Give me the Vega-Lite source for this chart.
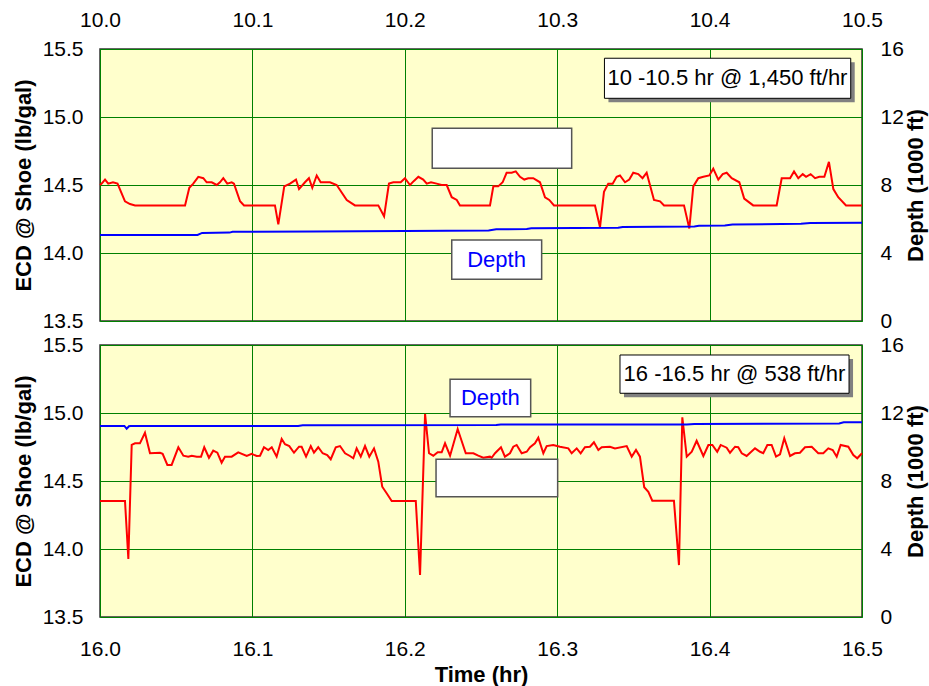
{
  "$schema": "https://vega.github.io/schema/vega-lite/v6.json",
  "background": "white",
  "padding": {"left": 11, "top": 8, "right": 2, "bottom": 0},
  "spacing": 24,
  "bounds": "flush",
  "config": {
    "font": "Liberation Sans",
    "view": {"fill": "#ffffcc", "stroke": "#333333", "strokeWidth": 1.5},
    "axis": {
      "labelFont": "Liberation Sans", "labelFontSize": 21, "labelColor": "#000000",
      "titleFont": "Liberation Sans", "titleFontSize": 22, "titleFontWeight": "bold", "titleColor": "#000000",
      "gridColor": "#008000", "gridOpacity": 1, "gridWidth": 1,
      "domain": false, "ticks": false, "labelPadding": 17, "labelFlush": false, "labelOverlap": false
    }
  },
  "datasets": {
    "ecdTop": [
      {"t": 10.0, "ecd": 14.50}, {"t": 10.0011, "ecd": 14.51}, {"t": 10.0033, "ecd": 14.54}, {"t": 10.0054, "ecd": 14.51}, {"t": 10.0085, "ecd": 14.52}, {"t": 10.0115, "ecd": 14.51},
      {"t": 10.0164, "ecd": 14.38}, {"t": 10.0197, "ecd": 14.36}, {"t": 10.0230, "ecd": 14.35}, {"t": 10.0558, "ecd": 14.35}, {"t": 10.0586, "ecd": 14.48},
      {"t": 10.0612, "ecd": 14.51}, {"t": 10.0645, "ecd": 14.56}, {"t": 10.0678, "ecd": 14.55}, {"t": 10.0700, "ecd": 14.52}, {"t": 10.0733, "ecd": 14.52},
      {"t": 10.0766, "ecd": 14.50}, {"t": 10.0787, "ecd": 14.52}, {"t": 10.0809, "ecd": 14.55}, {"t": 10.0835, "ecd": 14.51}, {"t": 10.0864, "ecd": 14.52},
      {"t": 10.0879, "ecd": 14.51}, {"t": 10.0919, "ecd": 14.38}, {"t": 10.0945, "ecd": 14.35}, {"t": 10.1148, "ecd": 14.35}, {"t": 10.1170, "ecd": 14.21},
      {"t": 10.1209, "ecd": 14.49}, {"t": 10.1247, "ecd": 14.51}, {"t": 10.1286, "ecd": 14.54}, {"t": 10.1306, "ecd": 14.47}, {"t": 10.1345, "ecd": 14.52},
      {"t": 10.1371, "ecd": 14.55}, {"t": 10.1393, "ecd": 14.48}, {"t": 10.1422, "ecd": 14.57}, {"t": 10.1448, "ecd": 14.52}, {"t": 10.1509, "ecd": 14.52},
      {"t": 10.1553, "ecd": 14.50}, {"t": 10.1619, "ecd": 14.39}, {"t": 10.1673, "ecd": 14.35}, {"t": 10.1826, "ecd": 14.35}, {"t": 10.1864, "ecd": 14.27},
      {"t": 10.1896, "ecd": 14.51}, {"t": 10.1925, "ecd": 14.52}, {"t": 10.1973, "ecd": 14.52}, {"t": 10.2001, "ecd": 14.55}, {"t": 10.2034, "ecd": 14.50},
      {"t": 10.2060, "ecd": 14.53}, {"t": 10.2089, "ecd": 14.56}, {"t": 10.2121, "ecd": 14.54}, {"t": 10.2144, "ecd": 14.51}, {"t": 10.2172, "ecd": 14.52},
      {"t": 10.2209, "ecd": 14.51}, {"t": 10.2242, "ecd": 14.50}, {"t": 10.2275, "ecd": 14.50}, {"t": 10.2308, "ecd": 14.41}, {"t": 10.2341, "ecd": 14.39},
      {"t": 10.2362, "ecd": 14.35}, {"t": 10.2559, "ecd": 14.35}, {"t": 10.2581, "ecd": 14.49}, {"t": 10.2613, "ecd": 14.49}, {"t": 10.2642, "ecd": 14.52},
      {"t": 10.2668, "ecd": 14.59}, {"t": 10.2701, "ecd": 14.59}, {"t": 10.2728, "ecd": 14.60}, {"t": 10.2756, "ecd": 14.56}, {"t": 10.2784, "ecd": 14.54},
      {"t": 10.2810, "ecd": 14.55}, {"t": 10.2843, "ecd": 14.55}, {"t": 10.2887, "ecd": 14.52}, {"t": 10.2920, "ecd": 14.41}, {"t": 10.2948, "ecd": 14.39},
      {"t": 10.2979, "ecd": 14.35}, {"t": 10.3248, "ecd": 14.35}, {"t": 10.3281, "ecd": 14.19}, {"t": 10.3307, "ecd": 14.45}, {"t": 10.3335, "ecd": 14.51},
      {"t": 10.3364, "ecd": 14.51}, {"t": 10.3390, "ecd": 14.56}, {"t": 10.3412, "ecd": 14.57}, {"t": 10.3445, "ecd": 14.52}, {"t": 10.3473, "ecd": 14.54},
      {"t": 10.3499, "ecd": 14.59}, {"t": 10.3532, "ecd": 14.58}, {"t": 10.3560, "ecd": 14.55}, {"t": 10.3587, "ecd": 14.59}, {"t": 10.3635, "ecd": 14.39},
      {"t": 10.3675, "ecd": 14.38}, {"t": 10.3701, "ecd": 14.35}, {"t": 10.3832, "ecd": 14.35}, {"t": 10.3867, "ecd": 14.18}, {"t": 10.3893, "ecd": 14.49},
      {"t": 10.3926, "ecd": 14.55}, {"t": 10.3959, "ecd": 14.56}, {"t": 10.3998, "ecd": 14.57}, {"t": 10.4024, "ecd": 14.62}, {"t": 10.4057, "ecd": 14.54},
      {"t": 10.4086, "ecd": 14.58}, {"t": 10.4112, "ecd": 14.59}, {"t": 10.4145, "ecd": 14.55}, {"t": 10.4195, "ecd": 14.52}, {"t": 10.4227, "ecd": 14.40},
      {"t": 10.4286, "ecd": 14.35}, {"t": 10.4440, "ecd": 14.35}, {"t": 10.4473, "ecd": 14.55}, {"t": 10.4528, "ecd": 14.55}, {"t": 10.4554, "ecd": 14.60},
      {"t": 10.4582, "ecd": 14.55}, {"t": 10.4611, "ecd": 14.58}, {"t": 10.4633, "ecd": 14.56}, {"t": 10.4663, "ecd": 14.58}, {"t": 10.4692, "ecd": 14.55},
      {"t": 10.4720, "ecd": 14.56}, {"t": 10.4753, "ecd": 14.56}, {"t": 10.4783, "ecd": 14.67}, {"t": 10.4812, "ecd": 14.47}, {"t": 10.4844, "ecd": 14.41},
      {"t": 10.4895, "ecd": 14.35}, {"t": 10.5, "ecd": 14.35}
    ],
    "depthTop": [
      {"t": 10.0, "d": 5.06}, {"t": 10.064, "d": 5.06}, {"t": 10.067, "d": 5.18}, {"t": 10.085, "d": 5.20}, {"t": 10.087, "d": 5.25},
      {"t": 10.14, "d": 5.27}, {"t": 10.20, "d": 5.30}, {"t": 10.255, "d": 5.32}, {"t": 10.26, "d": 5.39}, {"t": 10.28, "d": 5.41},
      {"t": 10.283, "d": 5.45}, {"t": 10.34, "d": 5.48}, {"t": 10.343, "d": 5.53}, {"t": 10.39, "d": 5.56}, {"t": 10.393, "d": 5.60},
      {"t": 10.41, "d": 5.62}, {"t": 10.415, "d": 5.68}, {"t": 10.46, "d": 5.72}, {"t": 10.466, "d": 5.77}, {"t": 10.5, "d": 5.78}
    ],
    "ecdBot": [
      {"t": 16.0, "ecd": 14.353}, {"t": 16.0164, "ecd": 14.353}, {"t": 16.0186, "ecd": 13.926}, {"t": 16.0208, "ecd": 14.765}, {"t": 16.0230, "ecd": 14.777},
      {"t": 16.0262, "ecd": 14.777}, {"t": 16.0295, "ecd": 14.855}, {"t": 16.0328, "ecd": 14.704}, {"t": 16.0394, "ecd": 14.708}, {"t": 16.0411, "ecd": 14.700},
      {"t": 16.0442, "ecd": 14.618}, {"t": 16.0470, "ecd": 14.618}, {"t": 16.0514, "ecd": 14.748}, {"t": 16.0547, "ecd": 14.686}, {"t": 16.0579, "ecd": 14.679},
      {"t": 16.0602, "ecd": 14.686}, {"t": 16.0635, "ecd": 14.679}, {"t": 16.0663, "ecd": 14.679}, {"t": 16.0684, "ecd": 14.748}, {"t": 16.0715, "ecd": 14.671},
      {"t": 16.0743, "ecd": 14.723}, {"t": 16.0770, "ecd": 14.708}, {"t": 16.0798, "ecd": 14.635}, {"t": 16.0820, "ecd": 14.679}, {"t": 16.0864, "ecd": 14.679},
      {"t": 16.0907, "ecd": 14.711}, {"t": 16.0963, "ecd": 14.684}, {"t": 16.0995, "ecd": 14.699}, {"t": 16.1028, "ecd": 14.684}, {"t": 16.1050, "ecd": 14.686},
      {"t": 16.1076, "ecd": 14.748}, {"t": 16.1104, "ecd": 14.728}, {"t": 16.1127, "ecd": 14.748}, {"t": 16.1159, "ecd": 14.679}, {"t": 16.1192, "ecd": 14.809},
      {"t": 16.1214, "ecd": 14.770}, {"t": 16.1242, "ecd": 14.757}, {"t": 16.1273, "ecd": 14.708}, {"t": 16.1306, "ecd": 14.752}, {"t": 16.1323, "ecd": 14.752},
      {"t": 16.1352, "ecd": 14.679}, {"t": 16.1383, "ecd": 14.757}, {"t": 16.1404, "ecd": 14.708}, {"t": 16.1432, "ecd": 14.748}, {"t": 16.1461, "ecd": 14.704},
      {"t": 16.1491, "ecd": 14.691}, {"t": 16.1514, "ecd": 14.660}, {"t": 16.1547, "ecd": 14.748}, {"t": 16.1575, "ecd": 14.757}, {"t": 16.1608, "ecd": 14.704},
      {"t": 16.1640, "ecd": 14.684}, {"t": 16.1662, "ecd": 14.667}, {"t": 16.1684, "ecd": 14.740}, {"t": 16.1711, "ecd": 14.679}, {"t": 16.1739, "ecd": 14.757},
      {"t": 16.1767, "ecd": 14.679}, {"t": 16.1798, "ecd": 14.740}, {"t": 16.1826, "ecd": 14.642}, {"t": 16.1852, "ecd": 14.458}, {"t": 16.1881, "ecd": 14.410},
      {"t": 16.1914, "ecd": 14.353}, {"t": 16.2072, "ecd": 14.353}, {"t": 16.2100, "ecd": 13.809}, {"t": 16.2133, "ecd": 14.993}, {"t": 16.2159, "ecd": 14.704},
      {"t": 16.2187, "ecd": 14.686}, {"t": 16.2216, "ecd": 14.711}, {"t": 16.2242, "ecd": 14.711}, {"t": 16.2264, "ecd": 14.777}, {"t": 16.2297, "ecd": 14.686},
      {"t": 16.2347, "ecd": 14.882}, {"t": 16.2400, "ecd": 14.704}, {"t": 16.2450, "ecd": 14.704}, {"t": 16.2482, "ecd": 14.686}, {"t": 16.2515, "ecd": 14.671},
      {"t": 16.2559, "ecd": 14.679}, {"t": 16.2570, "ecd": 14.671}, {"t": 16.2592, "ecd": 14.704}, {"t": 16.2631, "ecd": 14.748}, {"t": 16.2657, "ecd": 14.679},
      {"t": 16.2690, "ecd": 14.704}, {"t": 16.2712, "ecd": 14.752}, {"t": 16.2734, "ecd": 14.765}, {"t": 16.2767, "ecd": 14.704}, {"t": 16.2800, "ecd": 14.715},
      {"t": 16.2822, "ecd": 14.748}, {"t": 16.2854, "ecd": 14.777}, {"t": 16.2876, "ecd": 14.818}, {"t": 16.2909, "ecd": 14.704}, {"t": 16.2931, "ecd": 14.757},
      {"t": 16.2974, "ecd": 14.765}, {"t": 16.3018, "ecd": 14.752}, {"t": 16.3073, "ecd": 14.740}, {"t": 16.3095, "ecd": 14.704}, {"t": 16.3128, "ecd": 14.740},
      {"t": 16.3154, "ecd": 14.704}, {"t": 16.3182, "ecd": 14.748}, {"t": 16.3215, "ecd": 14.752}, {"t": 16.3241, "ecd": 14.785}, {"t": 16.3270, "ecd": 14.728},
      {"t": 16.3292, "ecd": 14.748}, {"t": 16.3346, "ecd": 14.752}, {"t": 16.3379, "ecd": 14.740}, {"t": 16.3456, "ecd": 14.757}, {"t": 16.3489, "ecd": 14.679},
      {"t": 16.3517, "ecd": 14.728}, {"t": 16.3543, "ecd": 14.679}, {"t": 16.3571, "ecd": 14.454}, {"t": 16.3598, "ecd": 14.421}, {"t": 16.3624, "ecd": 14.355},
      {"t": 16.3766, "ecd": 14.355}, {"t": 16.3799, "ecd": 13.882}, {"t": 16.3821, "ecd": 14.968}, {"t": 16.3850, "ecd": 14.679}, {"t": 16.3883, "ecd": 14.715},
      {"t": 16.3915, "ecd": 14.796}, {"t": 16.3959, "ecd": 14.684}, {"t": 16.3992, "ecd": 14.765}, {"t": 16.4018, "ecd": 14.765}, {"t": 16.4050, "ecd": 14.715},
      {"t": 16.4073, "ecd": 14.765}, {"t": 16.4112, "ecd": 14.745}, {"t": 16.4134, "ecd": 14.708}, {"t": 16.4167, "ecd": 14.752}, {"t": 16.4188, "ecd": 14.748},
      {"t": 16.4211, "ecd": 14.704}, {"t": 16.4243, "ecd": 14.684}, {"t": 16.4298, "ecd": 14.740}, {"t": 16.4331, "ecd": 14.715}, {"t": 16.4352, "ecd": 14.704},
      {"t": 16.4379, "ecd": 14.765}, {"t": 16.4407, "ecd": 14.765}, {"t": 16.4436, "ecd": 14.679}, {"t": 16.4462, "ecd": 14.696}, {"t": 16.4490, "ecd": 14.814},
      {"t": 16.4528, "ecd": 14.684}, {"t": 16.4560, "ecd": 14.704}, {"t": 16.4593, "ecd": 14.708}, {"t": 16.4626, "ecd": 14.748}, {"t": 16.4670, "ecd": 14.752},
      {"t": 16.4713, "ecd": 14.704}, {"t": 16.4746, "ecd": 14.704}, {"t": 16.4779, "ecd": 14.740}, {"t": 16.4808, "ecd": 14.728}, {"t": 16.4834, "ecd": 14.679},
      {"t": 16.4860, "ecd": 14.765}, {"t": 16.4910, "ecd": 14.752}, {"t": 16.4943, "ecd": 14.691}, {"t": 16.4969, "ecd": 14.667}, {"t": 16.5, "ecd": 14.704}
    ],
    "depthBot": [
      {"t": 16.0, "d": 11.24}, {"t": 16.016, "d": 11.24}, {"t": 16.0175, "d": 11.08}, {"t": 16.019, "d": 11.22}, {"t": 16.020, "d": 11.24},
      {"t": 16.13, "d": 11.24}, {"t": 16.133, "d": 11.28}, {"t": 16.26, "d": 11.29}, {"t": 16.263, "d": 11.32}, {"t": 16.385, "d": 11.33},
      {"t": 16.39, "d": 11.36}, {"t": 16.485, "d": 11.38}, {"t": 16.488, "d": 11.45}, {"t": 16.5, "d": 11.46}
    ],
    "boxesTop": [
      {"kind": "label", "x1": 10.331, "x2": 10.4926, "y1": 15.432, "y2": 15.1375, "text": "10 -10.5 hr @ 1,450 ft/hr", "tx": 10.4117, "ty": 15.2846, "color": "#000000"},
      {"kind": "plain", "x1": 10.2308, "x2": 10.2898, "y1": 14.096, "y2": 13.807, "text": "Depth", "tx": 10.2602, "ty": 13.951, "color": "#0000ff"},
      {"kind": "plain", "x1": 10.218, "x2": 10.3095, "y1": 14.917, "y2": 14.623, "text": "", "tx": 10.26, "ty": 14.77, "color": "#000000"}
    ],
    "boxesBot": [
      {"kind": "label", "x1": 16.3412, "x2": 16.4915, "y1": 15.4265, "y2": 15.145, "text": "16 -16.5 hr @ 538 ft/hr", "tx": 16.4163, "ty": 15.287, "color": "#000000"},
      {"kind": "plain", "x1": 16.2297, "x2": 16.2826, "y1": 15.248, "y2": 14.973, "text": "Depth", "tx": 16.2561, "ty": 15.110, "color": "#0000ff"},
      {"kind": "plain", "x1": 16.2205, "x2": 16.3003, "y1": 14.6596, "y2": 14.3846, "text": "", "tx": 16.26, "ty": 14.52, "color": "#000000"}
    ]
  },
  "vconcat": [
    {
      "width": 762, "height": 272,
      "layer": [
        {
          "layer": [
            {
              "data": {"name": "ecdTop"},
              "mark": {"type": "line", "color": "#ff0000", "strokeWidth": 2},
              "encoding": {
                "x": {"field": "t", "type": "quantitative", "scale": {"domain": [10, 10.5], "nice": false, "zero": false}, "axis": {"orient": "top", "values": [10, 10.1, 10.2, 10.3, 10.4, 10.5], "format": ".1f", "title": null, "grid": true, "labelPadding": 19}},
                "y": {"field": "ecd", "type": "quantitative", "scale": {"domain": [13.5, 15.5], "nice": false, "zero": false}, "axis": {"values": [13.5, 14, 14.5, 15, 15.5], "format": ".1f", "title": "ECD @ Shoe (lb/gal)", "grid": true, "titlePadding": 7}}
              }
            },
            {
              "data": {"name": "boxesTop"},
              "transform": [{"filter": "datum.kind === 'label'"}],
              "mark": {"type": "rect", "fill": "#808080", "xOffset": 4, "x2Offset": 4, "yOffset": 4, "y2Offset": 4},
              "encoding": {
                "x": {"field": "x1", "type": "quantitative"}, "x2": {"field": "x2"},
                "y": {"field": "y1", "type": "quantitative"}, "y2": {"field": "y2"}
              }
            },
            {
              "data": {"name": "boxesTop"},
              "transform": [{"filter": "datum.kind === 'label'"}],
              "mark": {"type": "rect", "fill": "#ffffff", "stroke": "#000000", "strokeWidth": 1},
              "encoding": {
                "x": {"field": "x1", "type": "quantitative"}, "x2": {"field": "x2"},
                "y": {"field": "y1", "type": "quantitative"}, "y2": {"field": "y2"}
              }
            },
            {
              "data": {"name": "boxesTop"},
              "transform": [{"filter": "datum.kind === 'plain'"}],
              "mark": {"type": "rect", "fill": "#ffffff", "stroke": "#555555", "strokeWidth": 1.5},
              "encoding": {
                "x": {"field": "x1", "type": "quantitative"}, "x2": {"field": "x2"},
                "y": {"field": "y1", "type": "quantitative"}, "y2": {"field": "y2"}
              }
            },
            {
              "data": {"name": "boxesTop"},
              "mark": {"type": "text", "fontSize": 22, "font": "Liberation Sans", "align": "center", "baseline": "middle"},
              "encoding": {
                "x": {"field": "tx", "type": "quantitative"},
                "y": {"field": "ty", "type": "quantitative"},
                "text": {"field": "text"},
                "color": {"field": "color", "type": "nominal", "scale": null}
              }
            }
          ]
        },
        {
          "data": {"name": "depthTop"},
          "mark": {"type": "line", "color": "#0000ff", "strokeWidth": 2},
          "encoding": {
            "x": {"field": "t", "type": "quantitative"},
            "y": {"field": "d", "type": "quantitative", "scale": {"domain": [0, 16], "nice": false}, "axis": {"orient": "right", "values": [0, 4, 8, 12, 16], "format": "d", "title": "Depth (1000 ft)", "grid": false, "labelPadding": 18, "titlePadding": 2, "titleAngle": 270, "titleBaseline": "top"}}
          }
        }
      ],
      "resolve": {"scale": {"y": "independent"}}
    },
    {
      "width": 762, "height": 272,
      "layer": [
        {
          "layer": [
            {
              "data": {"name": "ecdBot"},
              "mark": {"type": "line", "color": "#ff0000", "strokeWidth": 2},
              "encoding": {
                "x": {"field": "t", "type": "quantitative", "scale": {"domain": [16, 16.5], "nice": false, "zero": false}, "axis": {"orient": "bottom", "values": [16, 16.1, 16.2, 16.3, 16.4, 16.5], "format": ".1f", "title": "Time (hr)", "grid": true, "labelPadding": 21, "titlePadding": 5}},
                "y": {"field": "ecd", "type": "quantitative", "scale": {"domain": [13.5, 15.5], "nice": false, "zero": false}, "axis": {"values": [13.5, 14, 14.5, 15, 15.5], "format": ".1f", "title": "ECD @ Shoe (lb/gal)", "grid": true, "titlePadding": 7}}
              }
            },
            {
              "data": {"name": "boxesBot"},
              "transform": [{"filter": "datum.kind === 'label'"}],
              "mark": {"type": "rect", "fill": "#808080", "xOffset": 4, "x2Offset": 4, "yOffset": 4, "y2Offset": 4},
              "encoding": {
                "x": {"field": "x1", "type": "quantitative"}, "x2": {"field": "x2"},
                "y": {"field": "y1", "type": "quantitative"}, "y2": {"field": "y2"}
              }
            },
            {
              "data": {"name": "boxesBot"},
              "transform": [{"filter": "datum.kind === 'label'"}],
              "mark": {"type": "rect", "fill": "#ffffff", "stroke": "#000000", "strokeWidth": 1},
              "encoding": {
                "x": {"field": "x1", "type": "quantitative"}, "x2": {"field": "x2"},
                "y": {"field": "y1", "type": "quantitative"}, "y2": {"field": "y2"}
              }
            },
            {
              "data": {"name": "boxesBot"},
              "transform": [{"filter": "datum.kind === 'plain'"}],
              "mark": {"type": "rect", "fill": "#ffffff", "stroke": "#555555", "strokeWidth": 1.5},
              "encoding": {
                "x": {"field": "x1", "type": "quantitative"}, "x2": {"field": "x2"},
                "y": {"field": "y1", "type": "quantitative"}, "y2": {"field": "y2"}
              }
            },
            {
              "data": {"name": "boxesBot"},
              "mark": {"type": "text", "fontSize": 22, "font": "Liberation Sans", "align": "center", "baseline": "middle"},
              "encoding": {
                "x": {"field": "tx", "type": "quantitative"},
                "y": {"field": "ty", "type": "quantitative"},
                "text": {"field": "text"},
                "color": {"field": "color", "type": "nominal", "scale": null}
              }
            }
          ]
        },
        {
          "data": {"name": "depthBot"},
          "mark": {"type": "line", "color": "#0000ff", "strokeWidth": 2},
          "encoding": {
            "x": {"field": "t", "type": "quantitative"},
            "y": {"field": "d", "type": "quantitative", "scale": {"domain": [0, 16], "nice": false}, "axis": {"orient": "right", "values": [0, 4, 8, 12, 16], "format": "d", "title": "Depth (1000 ft)", "grid": false, "labelPadding": 18, "titlePadding": 2, "titleAngle": 270, "titleBaseline": "top"}}
          }
        }
      ],
      "resolve": {"scale": {"y": "independent"}}
    }
  ]
}
